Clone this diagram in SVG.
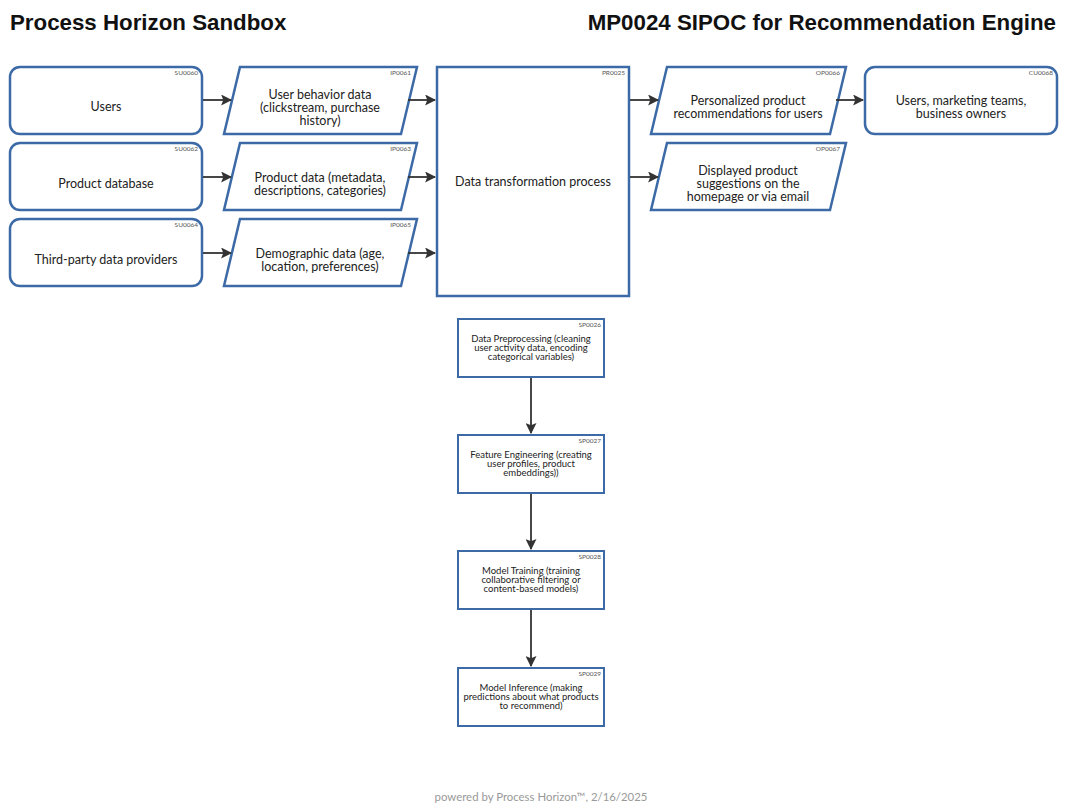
<svg xmlns="http://www.w3.org/2000/svg" width="1066" height="811" viewBox="0 0 1066 811">
<defs>
<marker id="ahb" viewBox="0 0 10 10" refX="9" refY="5" markerWidth="11" markerHeight="11" markerUnits="userSpaceOnUse" orient="auto">
<path d="M0,0 L10,5 L0,10 L2,5 z" fill="#333"/>
</marker>
</defs>
<style>
.shape{fill:#fff;stroke:#3c6aa6;stroke-width:2.5}
.sub{fill:#fff;stroke:#3c6aa6;stroke-width:2}
.t{font-family:"Lato","Open Sans",sans-serif;font-size:12.5px;fill:#222;text-anchor:middle}
.s{font-family:"Lato","Open Sans",sans-serif;font-size:9.5px;fill:#222;text-anchor:middle}
.id{font-family:"Lato","Open Sans",sans-serif;font-size:6.5px;fill:#555;text-anchor:end}
.title{font-family:"Liberation Sans",Arial,sans-serif;font-size:22.3px;font-weight:bold;fill:#111}
.conn{stroke:#333;stroke-width:1.8;fill:none;marker-end:url(#ahb)}
</style>
<rect width="1066" height="811" fill="#fff"/>
<text class="title" x="10" y="30">Process Horizon Sandbox</text>
<text class="title" x="1056" y="30" text-anchor="end">MP0024 SIPOC for Recommendation Engine</text>

<g id="SU0060"><rect class="shape" x="10" y="67" width="192" height="67" rx="10"/><text class="id" x="198" y="75">SU0060</text><text class="t" x="106" y="111">Users</text></g>
<g id="SU0062"><rect class="shape" x="10" y="143" width="192" height="67" rx="10"/><text class="id" x="198" y="151">SU0062</text><text class="t" x="106" y="188">Product database</text></g>
<g id="SU0064"><rect class="shape" x="10" y="219" width="192" height="67" rx="10"/><text class="id" x="198" y="227">SU0064</text><text class="t" x="106" y="264">Third-party data providers</text></g>

<g id="IP0061"><polygon class="shape" points="240,67 417,67 401,134 224,134"/><text class="id" x="411" y="75">IP0061</text><text class="t" x="320" y="99">User behavior data</text><text class="t" x="320" y="112">(clickstream, purchase</text><text class="t" x="320" y="125">history)</text></g>
<g id="IP0063"><polygon class="shape" points="240,143 417,143 401,210 224,210"/><text class="id" x="411" y="151">IP0063</text><text class="t" x="320" y="182">Product data (metadata,</text><text class="t" x="320" y="195">descriptions, categories)</text></g>
<g id="IP0065"><polygon class="shape" points="240,219 417,219 401,286 224,286"/><text class="id" x="411" y="227">IP0065</text><text class="t" x="320" y="258">Demographic data (age,</text><text class="t" x="320" y="271">location, preferences)</text></g>

<g id="PR0025"><rect class="shape" x="437" y="67" width="192" height="229"/><text class="id" x="625" y="75">PR0025</text><text class="t" x="533" y="186">Data transformation process</text></g>

<g id="OP0066"><polygon class="shape" points="667,67 846,67 830,134 651,134"/><text class="id" x="840" y="75">OP0066</text><text class="t" x="748" y="105">Personalized product</text><text class="t" x="748" y="118">recommendations for users</text></g>
<g id="OP0067"><polygon class="shape" points="667,143 846,143 830,210 651,210"/><text class="id" x="840" y="151">OP0067</text><text class="t" x="748" y="175">Displayed product</text><text class="t" x="748" y="188">suggestions on the</text><text class="t" x="748" y="201">homepage or via email</text></g>

<g id="CU0068"><rect class="shape" x="865" y="67" width="192" height="67" rx="10"/><text class="id" x="1053" y="75">CU0068</text><text class="t" x="961" y="105">Users, marketing teams,</text><text class="t" x="961" y="118">business owners</text></g>

<g id="SP0026"><rect class="sub" x="458" y="319" width="146" height="58"/><text class="id" x="601" y="327">SP0026</text><text class="s" x="531" y="342">Data Preprocessing (cleaning</text><text class="s" x="531" y="351">user activity data, encoding</text><text class="s" x="531" y="360">categorical variables)</text></g>
<g id="SP0027"><rect class="sub" x="458" y="435" width="146" height="58"/><text class="id" x="601" y="443">SP0027</text><text class="s" x="531" y="458">Feature Engineering (creating</text><text class="s" x="531" y="467">user profiles, product</text><text class="s" x="531" y="476">embeddings))</text></g>
<g id="SP0028"><rect class="sub" x="458" y="551" width="146" height="58"/><text class="id" x="601" y="559">SP0028</text><text class="s" x="531" y="574">Model Training (training</text><text class="s" x="531" y="583">collaborative filtering or</text><text class="s" x="531" y="592">content-based models)</text></g>
<g id="SP0029"><rect class="sub" x="458" y="668" width="146" height="58"/><text class="id" x="601" y="676">SP0029</text><text class="s" x="531" y="691">Model Inference (making</text><text class="s" x="531" y="700">predictions about what products</text><text class="s" x="531" y="709">to recommend)</text></g>

<g id="connectors">
<line class="conn" x1="203" y1="100" x2="231" y2="100"/>
<line class="conn" x1="203" y1="177" x2="231" y2="177"/>
<line class="conn" x1="203" y1="253" x2="231" y2="253"/>
<line class="conn" x1="408" y1="100" x2="435" y2="100"/>
<line class="conn" x1="408" y1="177" x2="435" y2="177"/>
<line class="conn" x1="408" y1="253" x2="435" y2="253"/>
<line class="conn" x1="630" y1="100" x2="658" y2="100"/>
<line class="conn" x1="630" y1="177" x2="658" y2="177"/>
<line class="conn" x1="836" y1="100" x2="863" y2="100"/>
<line class="conn" x1="531" y1="378" x2="531" y2="433"/>
<line class="conn" x1="531" y1="494" x2="531" y2="549"/>
<line class="conn" x1="531" y1="610" x2="531" y2="666"/>
</g>

<text x="541" y="801" font-family="Lato,'Open Sans',sans-serif" font-size="11.4" fill="#999" text-anchor="middle">powered by Process Horizon™, 2/16/2025</text>
</svg>
